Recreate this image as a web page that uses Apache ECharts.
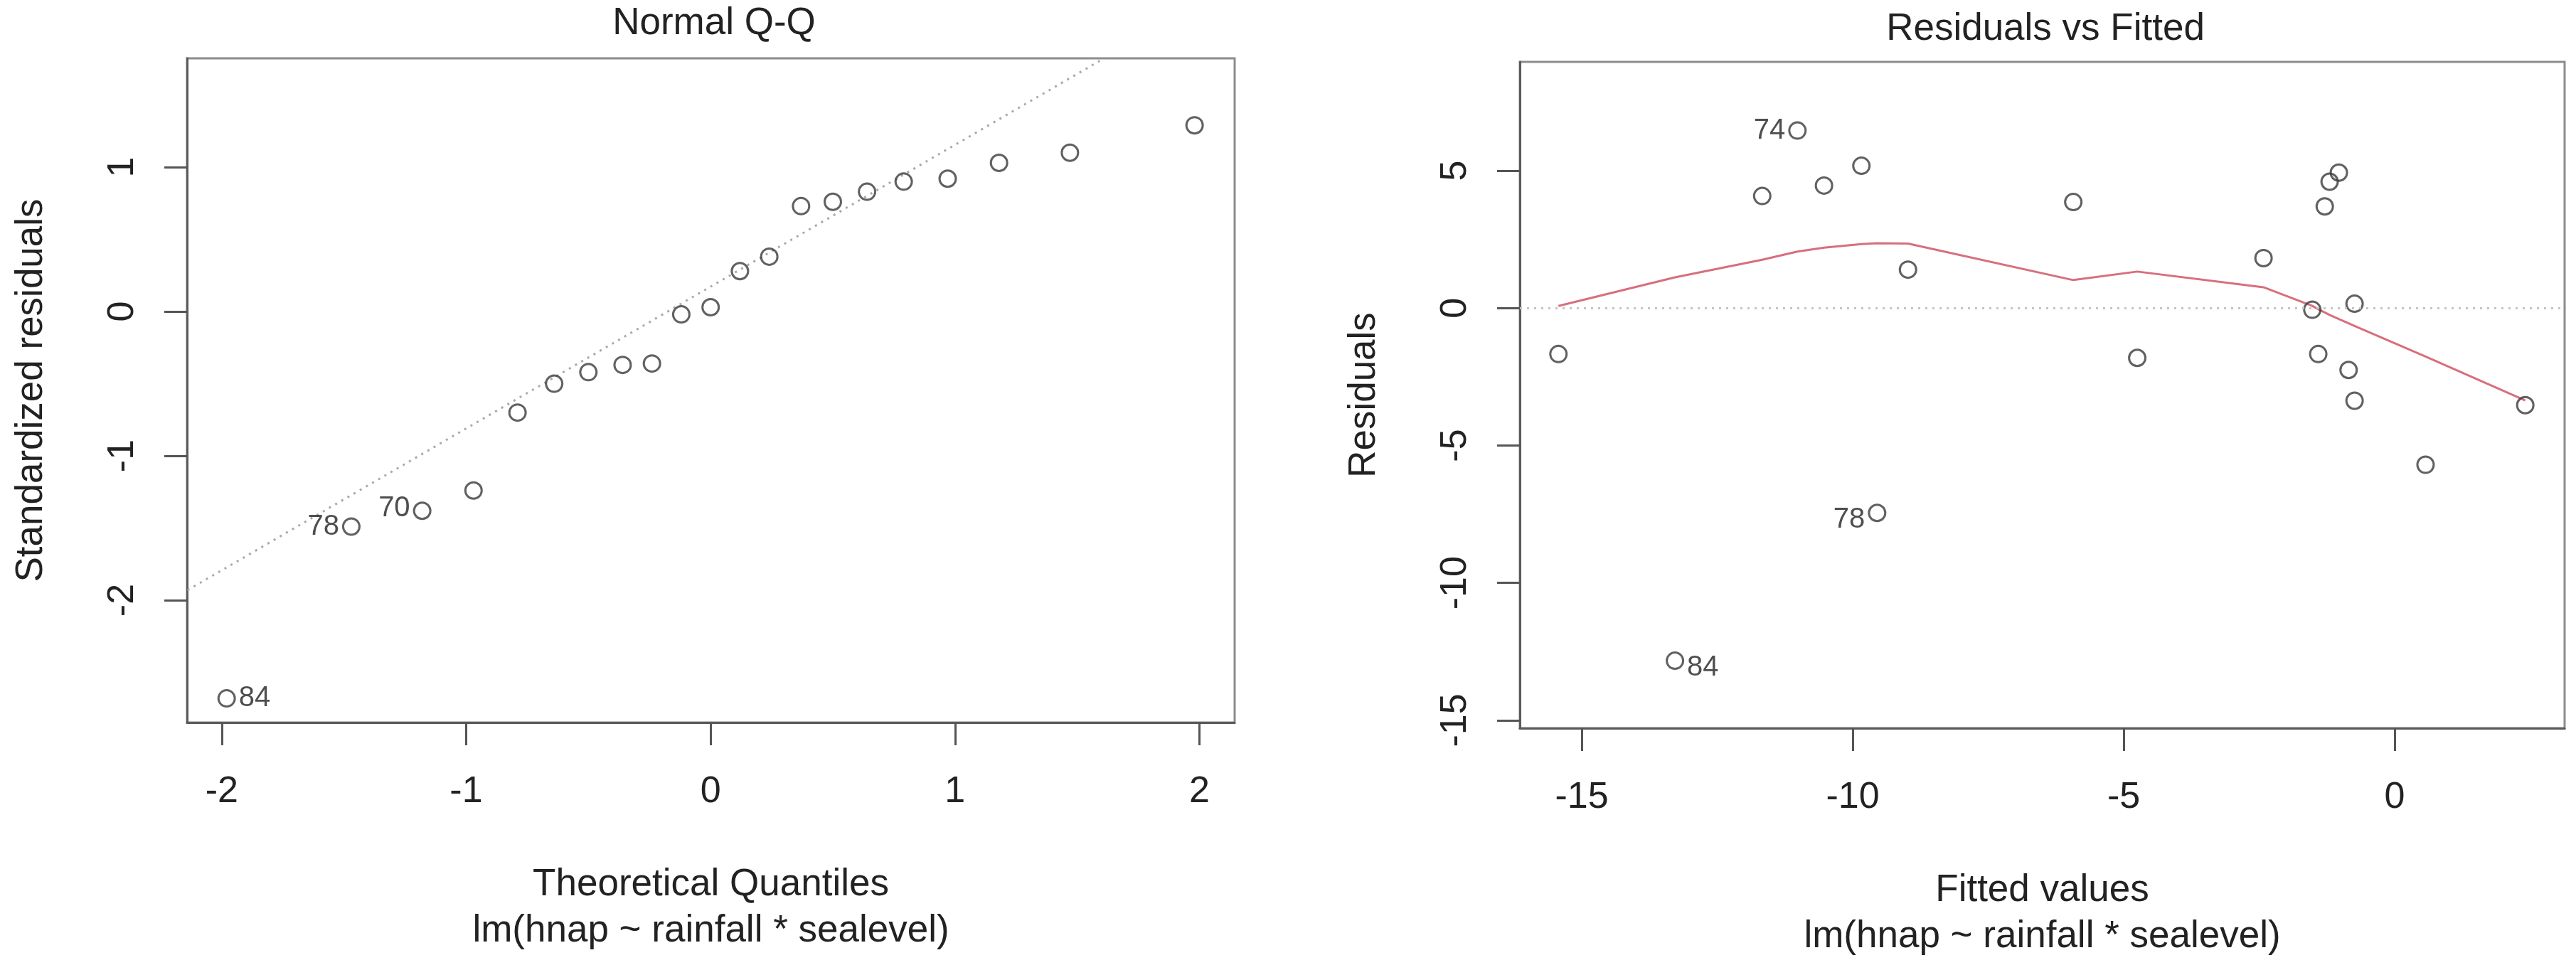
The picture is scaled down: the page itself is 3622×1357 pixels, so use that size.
<!DOCTYPE html>
<html>
<head>
<meta charset="utf-8">
<title>lm(hnap ~ rainfall * sealevel) diagnostics</title>
<script src="https://cdn.jsdelivr.net/npm/echarts@6.0.0/dist/echarts.min.js"></script>
<style>
  html, body { margin: 0; padding: 0; background: #fff; }
  #plots { width: 3622px; height: 1357px; }
</style>
</head>
<body>
<div id="plots"></div>
<script>
// Normal Q-Q panel
const qqTheoretical = [-1.98, -1.47, -1.18, -0.97, -0.79, -0.64, -0.50, -0.36, -0.24, -0.12, 0.00,
  0.12, 0.24, 0.37, 0.50, 0.64, 0.79, 0.97, 1.18, 1.47, 1.98];
const qqStdResiduals = [-2.68, -1.49, -1.38, -1.24, -0.70, -0.50, -0.42, -0.37, -0.36, -0.02, 0.03,
  0.28, 0.38, 0.73, 0.76, 0.83, 0.90, 0.92, 1.03, 1.10, 1.29];
const qqPointLabels = ['84', '78', '70', '', '', '', '', '', '', '', '', '', '', '', '', '', '', '', '', '', ''];
const qqLineX = [-2.14, 1.61];
const qqLineY = [-1.93, 1.754];

// Residuals vs Fitted panel
const fittedValues = [-15.43, -13.28, -11.67, -11.02, -10.53, -9.84, -9.55, -8.98, -5.93, -4.75, -2.42,
  -1.52, -1.41, -1.29, -1.20, -1.03, -0.85, -0.74, -0.74, 0.57, 2.41];
const residuals = [-1.67, -12.83, 4.08, 6.46, 4.46, 5.18, -7.45, 1.40, 3.86, -1.81, 1.82,
  -0.06, -1.67, 3.70, 4.60, 4.93, -2.25, -3.37, 0.16, -5.70, -3.53];
const fittedPointLabels = ['', '84', '', '74', '', '', '78', '', '', '', '', '', '', '', '', '', '', '', '', '', ''];
const lowessX = [-15.43, -13.28, -11.67, -11.02, -10.53, -9.84, -9.55, -8.98, -5.93, -4.75, -2.42,
  -1.52, -1.41, -1.29, -1.20, -1.03, -0.85, -0.74, 0.57, 2.41];
const lowessY = [0.08, 1.12, 1.76, 2.06, 2.20, 2.33, 2.36, 2.35, 1.02, 1.33, 0.76,
  0.08, -0.04, -0.16, -0.25, -0.40, -0.55, -0.65, -1.76, -3.36];

// tick labels
const qqXTicks = [-2, -1, 0, 1, 2];
const qqYTicks = [-2, -1, 0, 1];
const fittedXTicks = [-15, -10, -5, 0];
const residYTicks = [-15, -10, -5, 0, 5];

const font = "'Liberation Sans', Arial, sans-serif";
const ink = '#222';

// which side of its point each id label sits on, and a small nudge
const qqLabelSide = { '84': ['right', [0, 0]], '78': ['left', [0, 0]], '70': ['left', [0, -3]] };
const fitLabelSide = { '74': ['left', [0, 0]], '78': ['left', [0, 10]], '84': ['right', [0, 10]] };

function points(xs, ys, labels, sides) {
  return xs.map((x, i) => {
    const item = { value: [x, ys[i]] };
    if (labels[i]) {
      item.label = {
        show: true,
        formatter: labels[i],
        position: sides[labels[i]][0],
        offset: sides[labels[i]][1],
        distance: 4,
        fontSize: 40,
        fontFamily: font,
        color: ink
      };
    }
    return item;
  });
}

function pairs(xs, ys) {
  return xs.map((x, i) => [x, ys[i]]);
}

function xAxisFor(gridIndex, min, max, ticks, name) {
  return {
    type: 'value', gridIndex: gridIndex, min: min, max: max,
    splitLine: { show: false },
    axisLine: { show: true, onZero: false, lineStyle: { color: '#5a5a5a', width: 3 } },
    axisTick: { show: true, length: 32, customValues: ticks, lineStyle: { color: '#555', width: 3 } },
    axisLabel: { customValues: ticks, margin: 72, fontSize: 52, fontFamily: font, color: ink },
    name: name, nameLocation: 'middle', nameGap: 196,
    nameTextStyle: { fontSize: 53, lineHeight: 65, fontFamily: font, color: ink }
  };
}

function yAxisFor(gridIndex, min, max, ticks, name) {
  return {
    type: 'value', gridIndex: gridIndex, min: min, max: max,
    splitLine: { show: false },
    axisLine: { show: true, onZero: false, lineStyle: { color: '#5a5a5a', width: 3 } },
    axisTick: { show: true, length: 32, customValues: ticks, lineStyle: { color: '#555', width: 3 } },
    axisLabel: { customValues: ticks, rotate: 90, margin: 64, fontSize: 52, fontFamily: font, color: ink },
    name: name, nameLocation: 'middle', nameRotate: 90, nameGap: 192,
    nameTextStyle: { fontSize: 53, fontFamily: font, color: ink }
  };
}

const pointStyle = { color: 'rgba(0,0,0,0)', borderColor: '#3a3a3a', borderWidth: 3 };

let chart = echarts.init(document.getElementById('plots'), null, { renderer: 'canvas' });

const option = {
  backgroundColor: '#fff',
  animation: false,
  title: [
    { text: 'Normal Q-Q', left: 999, top: 2, textAlign: 'center',
      textStyle: { fontSize: 53, fontWeight: 'normal', fontFamily: font, color: ink } },
    { text: 'Residuals vs Fitted', left: 2871, top: 10, textAlign: 'center',
      textStyle: { fontSize: 53, fontWeight: 'normal', fontFamily: font, color: ink } }
  ],
  grid: [
    { left: 263, top: 82, width: 1473, height: 934, show: true, borderColor: '#8c8c8c', borderWidth: 3,
      outerBoundsMode: 'none' },
    { left: 2137, top: 87, width: 1469, height: 937, show: true, borderColor: '#8c8c8c', borderWidth: 3,
      outerBoundsMode: 'none' }
  ],
  xAxis: [
    xAxisFor(0, -2.142, 2.144, qqXTicks, 'Theoretical Quantiles\nlm(hnap ~ rainfall * sealevel)'),
    xAxisFor(1, -16.142, 3.136, fittedXTicks, 'Fitted values\nlm(hnap ~ rainfall * sealevel)')
  ],
  yAxis: [
    yAxisFor(0, -2.847, 1.754, qqYTicks, 'Standardized residuals'),
    yAxisFor(1, -15.285, 8.96, residYTicks, 'Residuals')
  ],
  series: [
    {
      name: 'qq line', type: 'line', xAxisIndex: 0, yAxisIndex: 0,
      data: pairs(qqLineX, qqLineY), symbol: 'none', silent: true, z: 1,
      lineStyle: { color: '#a9a9a9', width: 3, type: [3, 7] }
    },
    {
      name: 'Normal Q-Q', type: 'scatter', xAxisIndex: 0, yAxisIndex: 0,
      data: points(qqTheoretical, qqStdResiduals, qqPointLabels, qqLabelSide),
      symbol: 'circle', symbolSize: 23, itemStyle: pointStyle, z: 3
    },
    {
      name: 'Residuals vs Fitted', type: 'scatter', xAxisIndex: 1, yAxisIndex: 1,
      data: points(fittedValues, residuals, fittedPointLabels, fitLabelSide),
      symbol: 'circle', symbolSize: 23, itemStyle: pointStyle, z: 3,
      markLine: {
        silent: true, symbol: 'none', label: { show: false },
        lineStyle: { color: '#c4c4c4', width: 3, type: [3, 7] },
        data: [{ yAxis: 0 }]
      }
    },
    {
      name: 'lowess', type: 'line', xAxisIndex: 1, yAxisIndex: 1,
      data: pairs(lowessX, lowessY), symbol: 'none', silent: true, z: 2,
      lineStyle: { color: '#d76f7d', width: 3 }
    }
  ]
};

chart.setOption(option);
</script>
</body>
</html>
